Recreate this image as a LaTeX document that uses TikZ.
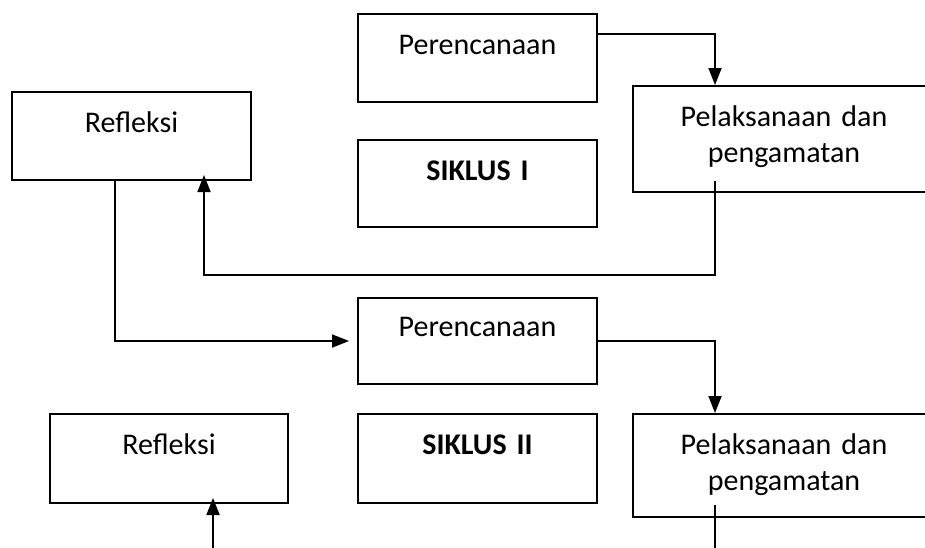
\documentclass[tikz,border=0pt]{standalone}
\usepackage{fontspec}
\setmainfont{Carlito}
\usetikzlibrary{arrows.meta}

\begin{document}
\begin{tikzpicture}[x=0.5pt,y=-0.5pt,
    box/.style={draw,line width=1pt,anchor=north west,inner sep=0pt,
      text width=119.5pt,align=center,font=\fontsize{15}{18}\selectfont,
      text height=20pt,text depth=24pt},
    wide/.style={box,text width=151pt},
    arr/.style={line width=0.9pt,-{Triangle[length=8.5pt,width=6.5pt]}},
    link/.style={line width=0.9pt}]
        \useasboundingbox (0,0) rectangle (925,547);
        \clip (0,0) rectangle (925,547);

        % siklus I
        \node[box] (pren1) at (357,13) {Perencanaan};
        \node[wide,text depth=33pt] (pel1) at (632,85) {Pelaksanaan dan\\pengamatan};
        \node[box] (ref1) at (11,91) {Refleksi};
        \node[box,text depth=23.5pt] (sik1) at (357,139) {\textbf{SIKLUS I}};

        % siklus II
        \node[box,text height=19pt] (pren2) at (357,297) {Perencanaan};
        \node[box,text depth=24.5pt,text width=119pt] (ref2) at (49,413) {Refleksi};
        \node[box,text depth=24.5pt] (sik2) at (357,413) {\textbf{SIKLUS II}};
        \node[wide,text depth=31.5pt] (pel2) at (632,413) {Pelaksanaan dan\\pengamatan};

        % free ends at the bottom
        \coordinate (end1) at (715,560);
        \coordinate (end2) at (213,560);

        % arrows
        \draw[arr] ([yshift=12pt]pren1.east) -| ([xshift=41.5pt]pel1.north west);
        \draw[arr,shorten >=-3pt] ([xshift=41.5pt,yshift=6pt]pel1.south west)
            -- ++(0,-47pt) -| ([xshift=-24pt]ref1.south east);
        \draw[arr,shorten >=4pt] ([xshift=52pt]ref1.south west) |- (pren2.west);
        \draw[arr] (pren2.east) -| ([xshift=41.5pt]pel2.north west);
        \draw[link] ([xshift=41.5pt,yshift=6.5pt]pel2.south west) -- (end1);
        \draw[arr,shorten >=-3pt] (end2) -- (end2 |- ref2.south);
    \end{tikzpicture}
\end{document}
